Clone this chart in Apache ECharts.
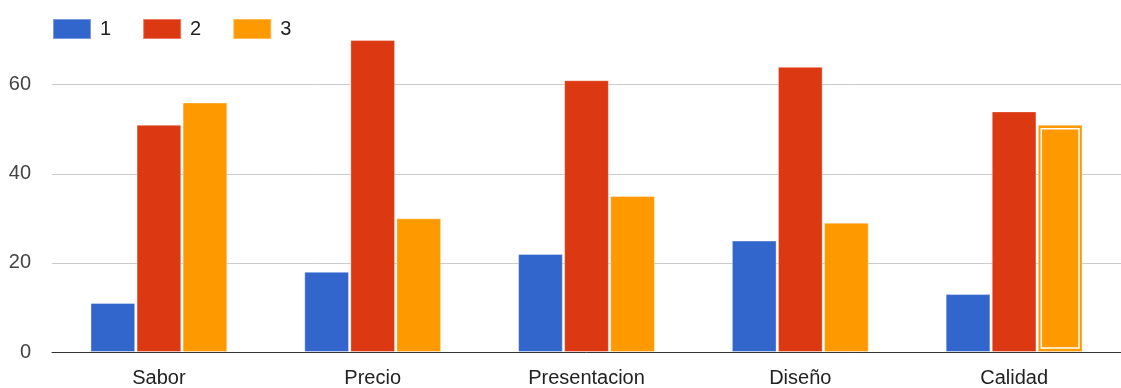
<!DOCTYPE html>
<html lang="es">
<head>
  <meta charset="UTF-8">
  <title>Encuesta</title>
  <script src="https://cdn.jsdelivr.net/npm/echarts@6/dist/echarts.min.js"></script>
  <style>
    html, body { margin: 0; padding: 0; background: #fff; }
  </style>
</head>
<body>
  <div id="chart" style="width: 1121px; height: 388px;"></div>

  <script>
    // datos
    var categorias = ['Sabor', 'Precio', 'Presentacion', 'Diseño', 'Calidad'];
    var serie1 = [11, 18, 22, 25, 13];
    var serie2 = [51, 70, 61, 64, 54];
    var serie3 = [56, 30, 35, 29, 51];
    var nombres = ['1', '2', '3'];
    var colores = ['#3366cc', '#dc3912', '#ff9900'];
    var resaltado = 4; // barra de Calidad (serie 3) seleccionada

    var GAP_CAT = 0.36, GAP_BAR = 0.03;

    var myChart = echarts.init(document.getElementById('chart'));

    function barra(nombre, datos, color) {
      return {
        name: nombre,
        type: 'bar',
        data: datos,
        barGap: (GAP_BAR * 100) + '%',
        barCategoryGap: (GAP_CAT * 100) + '%',
        itemStyle: { color: color, borderColor: 'rgba(255,255,255,0.35)', borderWidth: 1 }
      };
    }

    // marco blanco interior de la barra seleccionada
    function marco(params, api) {
      var bw = api.size([1, 0])[0];
      var w = (bw - bw * GAP_CAT) / (3 + 2 * GAP_BAR);
      var total = 3 * w + 2 * w * GAP_BAR;
      var top = api.coord([api.value(0), api.value(1)]);
      var base = api.coord([api.value(0), 0]);
      var x = top[0] - total / 2 + 2 * w * (1 + GAP_BAR);
      return {
        type: 'rect',
        shape: { x: x + 3.5, y: top[1] + 4, width: w - 7, height: base[1] - top[1] - 8 },
        style: { fill: null, stroke: '#fff', lineWidth: 1.5 },
        silent: true
      };
    }

    var fuente = 'Arial, "Liberation Sans", sans-serif';

    myChart.setOption({
      animation: false,
      color: colores,
      textStyle: { fontFamily: fuente },
      legend: {
        left: 47,
        top: 13,
        itemWidth: 38,
        itemHeight: 20,
        itemGap: 31,
        icon: 'rect',
        textStyle: { fontSize: 20, color: '#222', fontFamily: fuente, padding: [0, 0, 0, 4] },
        data: nombres
      },
      grid: { left: 52, right: 0, top: 0, bottom: 35 },
      xAxis: {
        type: 'category',
        data: categorias,
        axisTick: { show: false },
        axisLine: { lineStyle: { color: '#333', width: 1 } },
        axisLabel: { fontSize: 20, color: '#222', margin: 16, fontFamily: fuente }
      },
      yAxis: {
        type: 'value',
        min: 0,
        max: 79,
        interval: 20,
        axisLabel: { fontSize: 20, color: '#444', margin: 21, showMaxLabel: false, fontFamily: fuente },
        splitLine: { lineStyle: { color: ['#ccc', '#ccc', '#ccc', '#ccc', 'rgba(0,0,0,0)'], width: 1 } }
      },
      series: [
        barra(nombres[0], serie1, colores[0]),
        barra(nombres[1], serie2, colores[1]),
        barra(nombres[2], serie3, colores[2]),
        {
          name: 'sel',
          type: 'custom',
          renderItem: marco,
          data: [[resaltado, serie3[resaltado]]],
          encode: { x: 0, y: 1 },
          z: 5
        }
      ]
    });
  </script>
</body>
</html>
